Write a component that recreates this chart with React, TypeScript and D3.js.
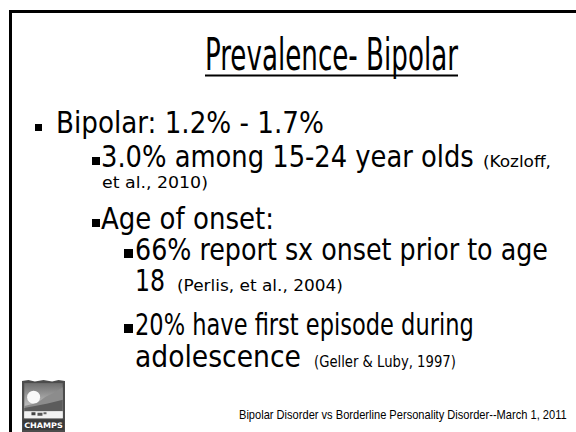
import React, { useLayoutEffect, useRef, useState } from "react";
import * as d3 from "d3";

// ---- content ----
const titleText = "Prevalence- Bipolar";
const bulletTexts = [
  "Bipolar: 1.2% - 1.7%",
  "3.0% among 15-24 year olds",
  "Age of onset:",
  "66% report sx onset prior to age",
  "20% have first episode during",
];
const bulletLevels = [1, 2, 2, 3, 3];
const wrapTexts = ["", "", "", "18", "adolescence"];
const citations = ["", "(Kozloff,", "", "(Perlis, et al., 2004)", "(Geller & Luby, 1997)"];
const citationWraps = ["", "et al., 2010)", "", "", ""];
const footerText = "Bipolar Disorder vs Borderline Personality Disorder--March 1, 2011";
const logoText = "CHAMPS";

// ---- layout (positions measured from the slide) ----
const W = 576;
const H = 432;
const bulletBaselines = [133, 167, 229, 260, 335];
const wrapBaselines = [0, 188, 0, 291, 367];
const levelBulletX: Record<number, number> = { 1: 35, 2: 92, 3: 124 };
const levelTextX: Record<number, number> = { 1: 56, 2: 101, 3: 135 };
const bulletWidths = [268, 373, 173, 413, 339];
const wrapWidths = [0, 0, 0, 30, 166];
const citeX = [0, 483, 0, 177, 314];
const citeWidths = [0, 68, 0, 166, 142];
const citeWrapWidths = [0, 106, 0, 0, 0];

const bodyFont = "'DejaVu Sans Condensed', 'DejaVu Sans', Tahoma, sans-serif";
const titleFont = "'Liberation Sans Narrow', 'DejaVu Sans Condensed', Arial, sans-serif";

type FitProps = {
  x: number;
  y: number;
  width: number;
  size: number;
  family: string;
  text: string;
  weight?: string;
  fill?: string;
};

// Text whose natural width is horizontally scaled to the measured width.
function FitText({ x, y, width, size, family, text, weight, fill }: FitProps) {
  const ref = useRef<SVGTextElement>(null);
  const [k, setK] = useState(1);
  useLayoutEffect(() => {
    if (ref.current) {
      const natural = ref.current.getComputedTextLength();
      if (natural > 0) setK(width / natural);
    }
  }, [text, width, size, family]);
  return (
    <g transform={`translate(${x},${y}) scale(${k},1)`}>
      <text
        ref={ref}
        x={0}
        y={0}
        fontFamily={family}
        fontSize={size}
        fontWeight={weight}
        fill={fill ?? "#000"}
      >
        {text}
      </text>
    </g>
  );
}

function Logo() {
  const x0 = 22, y0 = 380, w = 43, h = 52;
  const sx = d3.scaleLinear().domain([0, 1]).range([x0, x0 + w]);
  const sy = d3.scaleLinear().domain([0, 1]).range([y0, y0 + h]);
  const path = d3.line<[number, number]>()
    .x((d) => sx(d[0]))
    .y((d) => sy(d[1]));
  const frame: [number, number][] = [
    [0, 0.02], [0.15, 0.0], [0.3, 0.03], [0.5, 0.0], [0.7, 0.03], [0.85, 0.0], [1, 0.02],
    [1, 1], [0, 1],
  ];
  const ridgeFar: [number, number][] = [
    [0.05, 0.5], [0.35, 0.44], [0.55, 0.32], [0.75, 0.24], [0.95, 0.14], [0.95, 0.55], [0.05, 0.58],
  ];
  const ridgeNear: [number, number][] = [
    [0.05, 0.54], [0.3, 0.5], [0.6, 0.45], [0.95, 0.38], [0.95, 0.6], [0.05, 0.62],
  ];
  return (
    <g>
      <defs>
        <linearGradient id="sky" x1="0" y1="0" x2="0" y2="1">
          <stop offset="0" stopColor="#6e6e6e" />
          <stop offset="0.55" stopColor="#b4b4b4" />
          <stop offset="1" stopColor="#dcdcdc" />
        </linearGradient>
        <clipPath id="panel">
          <rect x={sx(0.05)} y={sy(0.06)} width={sx(0.95) - sx(0.05)} height={sy(0.74) - sy(0.06)} />
        </clipPath>
      </defs>
      <path d={path(frame) ?? ""} fill="#4c4c4c" />
      <g clipPath="url(#panel)">
        <rect x={sx(0.05)} y={sy(0.06)} width={sx(0.95) - sx(0.05)} height={sy(0.74) - sy(0.06)} fill="url(#sky)" />
        <circle cx={sx(0.27)} cy={sy(0.33)} r={6.5} fill="#f8f8f8" />
        <path d={path(ridgeFar) ?? ""} fill="#8c8c8c" />
        <path d={path(ridgeNear) ?? ""} fill="#5c5c5c" />
        <rect x={sx(0.05)} y={sy(0.6)} width={sx(0.95) - sx(0.05)} height={sy(0.74) - sy(0.6)} fill="#f2f2f2" />
        <rect x={sx(0.22)} y={sy(0.62)} width={4} height={3} fill="#444" />
        <rect x={sx(0.36)} y={sy(0.63)} width={5} height={3} fill="#555" />
        <rect x={sx(0.5)} y={sy(0.62)} width={3} height={2} fill="#666" />
      </g>
      <rect x={sx(0.02)} y={sy(0.76)} width={sx(0.98) - sx(0.02)} height={sy(0.96) - sy(0.76)} fill="#3a3a3a" />
      <FitText
        x={sx(0.05)}
        y={sy(0.915)}
        width={sx(0.95) - sx(0.05)}
        size={7.5}
        family="'DejaVu Sans', sans-serif"
        weight="bold"
        fill="#ffffff"
        text={logoText}
      />
    </g>
  );
}

export default function App() {
  return (
    <svg
      width={W}
      height={H}
      viewBox={`0 0 ${W} ${H}`}
      style={{ position: "absolute", left: 0, top: 0, background: "#ffffff" }}
    >
      <rect x={0} y={0} width={W} height={H} fill="#ffffff" />
      {/* slide frame: top and left rules */}
      <line x1={10.5} y1={11.5} x2={W} y2={11.5} stroke="#000" strokeWidth={3} />
      <line x1={10.5} y1={10} x2={10.5} y2={H} stroke="#000" strokeWidth={3} />

      {/* title */}
      <FitText x={205} y={70} width={253} size={45} family={titleFont} text={titleText} />
      <line x1={205} x2={458} y1={75.5} y2={75.5} stroke="#000" strokeWidth={2} />

      {bulletTexts.map((t, i) => {
        const lvl = bulletLevels[i];
        const base = bulletBaselines[i];
        const bx = levelBulletX[lvl];
        const tx = levelTextX[lvl];
        const size = lvl === 1 ? 7 : lvl === 2 ? 8 : 9;
        return (
          <g key={i}>
            <rect x={bx} y={base - 2 - size} width={size} height={size} fill="#000" />
            <FitText x={tx} y={base} width={bulletWidths[i]} size={30} family={bodyFont} text={t} />
            {citations[i] && (
              <FitText
                x={citeX[i] || tx}
                y={wrapTexts[i] ? wrapBaselines[i] : base}
                width={citeWidths[i]}
                size={16}
                family={bodyFont}
                text={citations[i]}
              />
            )}
            {citationWraps[i] && (
              <FitText
                x={tx + 1}
                y={wrapBaselines[i]}
                width={citeWrapWidths[i]}
                size={16}
                family={bodyFont}
                text={citationWraps[i]}
              />
            )}
            {wrapTexts[i] && (
              <FitText
                x={tx}
                y={wrapBaselines[i]}
                width={wrapWidths[i]}
                size={30}
                family={bodyFont}
                text={wrapTexts[i]}
              />
            )}
          </g>
        );
      })}

      <Logo />

      <FitText
        x={239}
        y={419}
        width={328}
        size={12}
        family="'Liberation Sans', Arial, sans-serif"
        text={footerText}
      />
    </svg>
  );
}
